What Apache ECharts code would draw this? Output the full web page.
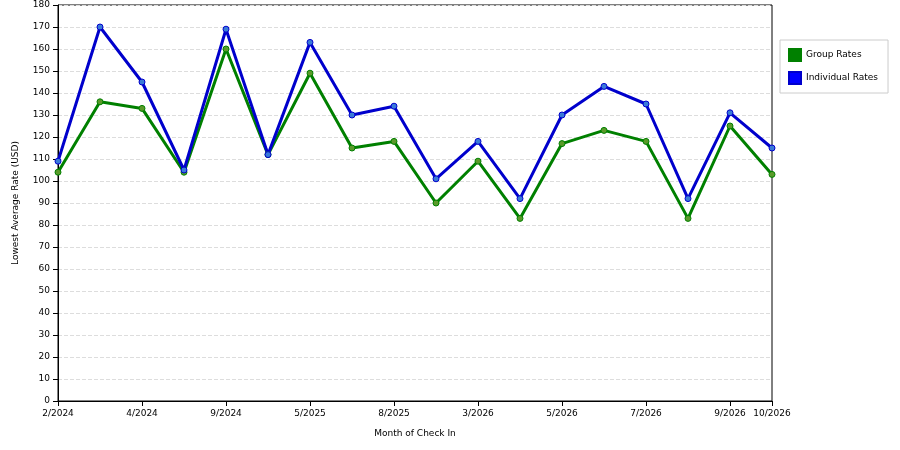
<!DOCTYPE html>
<html><head><meta charset="utf-8">
<script src="https://cdn.jsdelivr.net/npm/echarts@6/dist/echarts.min.js"></script>
<style>html,body{margin:0;padding:0;background:#fff}#c{width:900px;height:450px}</style>
</head><body><div id="c"></div>
<script>
var categories = ['2/2024','3/2024','4/2024','6/2024','9/2024','1/2025','5/2025','6/2025','8/2025','12/2025','3/2026','4/2026','5/2026','6/2026','7/2026','8/2026','9/2026','10/2026'];
var groupRates = [104,136,133,104,160,112,149,115,118,90,109,83,117,123,118,83,125,103];
var individualRates = [109,170,145,105,169,112,163,130,134,101,118,92,130,143,135,92,131,115];
var chart = echarts.init(document.getElementById('c'));
var last = categories.length - 1;
function ser(name, data, color, marker) {
  return {name:name, type:'line', data:data, symbol:'circle', symbolSize:6,
    lineStyle:{color:color, width:3}, itemStyle:{color:marker, borderColor:color, borderWidth:1}};
}
chart.setOption({
  animation:false,
  textStyle:{fontFamily:'DejaVu Sans', fontSize:10, color:'#000'},
  grid:{left:58, right:128, top:5, bottom:49, show:true, borderColor:'#000', borderWidth:1, backgroundColor:'transparent'},
  legend:{orient:'vertical', left:780, top:40, padding:[8,10,8,8], itemGap:9,
    borderColor:'#ccc', borderWidth:1, icon:'rect', itemWidth:12, itemHeight:12,
    textStyle:{fontSize:9, fontFamily:'DejaVu Sans', color:'#000'},
    data:[{name:'Group Rates', itemStyle:{color:'#008000'}},{name:'Individual Rates', itemStyle:{color:'#0000ff'}}]},
  xAxis:{type:'category', data:categories, boundaryGap:false, name:'Month of Check In',
    nameLocation:'middle', nameGap:28, nameTextStyle:{fontSize:9},
    axisLine:{lineStyle:{color:'#000'}}, axisTick:{show:true, alignWithLabel:true, interval:function(i){return i%2===0||i===last;}, lineStyle:{color:'#000'}},
    axisLabel:{fontSize:9, color:'#000', interval:function(i){return i%2===0||i===last;}}},
  yAxis:{type:'value', min:0, max:180, interval:10, name:'Lowest Average Rate (USD)',
    nameLocation:'middle', nameGap:38, nameTextStyle:{fontSize:9},
    axisLine:{show:true, lineStyle:{color:'#000'}}, axisTick:{show:true, lineStyle:{color:'#000'}},
    axisLabel:{fontSize:9, color:'#000'},
    splitLine:{lineStyle:{color:'#ddd', type:'dashed'}}},
  series:[ser('Group Rates', groupRates, '#008000', '#5a9a2a'), ser('Individual Rates', individualRates, '#0000cc', '#3a7ad8')]
});
</script></body></html>
